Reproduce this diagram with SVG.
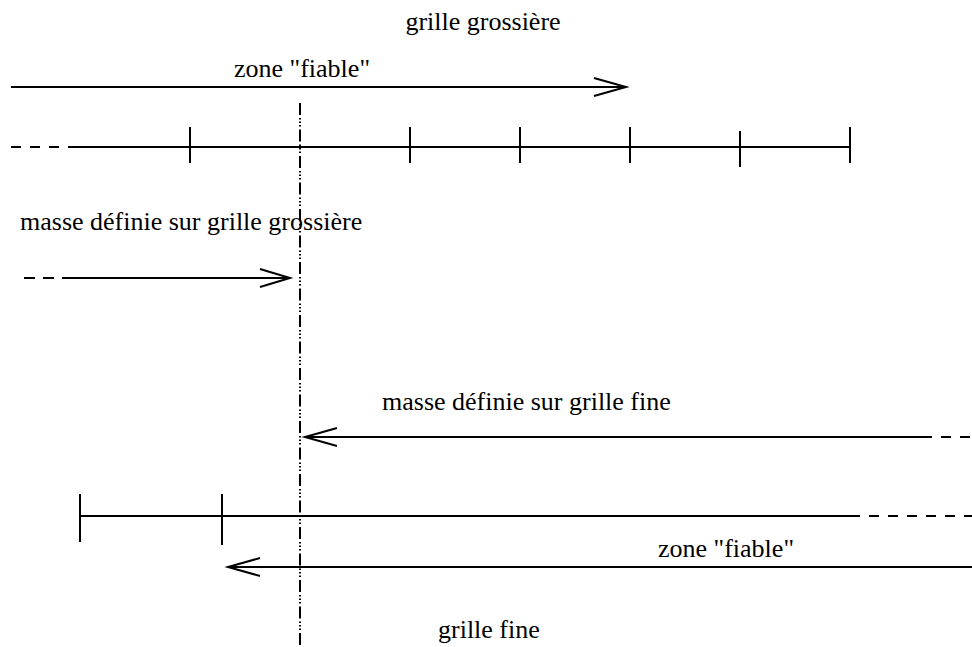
<svg xmlns="http://www.w3.org/2000/svg" width="972" height="647" viewBox="0 0 972 647">
<style>
.t{font-family:"Liberation Serif","Times New Roman",serif;font-size:26px;fill:#000}
.s{stroke:#000;stroke-width:2;fill:none}
.d{stroke:#000;stroke-width:2;fill:none;stroke-dasharray:10 9}
.dd{stroke:#000;stroke-width:2;fill:none;stroke-dasharray:12 3 1.5 2 1.5 2 1.5 3}
</style>
<rect width="972" height="647" fill="#fff"/>
<g id="labels">
<text class="t" x="483" y="30" text-anchor="middle">grille grossière</text>
<text class="t" x="302" y="77" text-anchor="middle">zone "fiable"</text>
<text class="t" x="20" y="230">masse définie sur grille grossière</text>
<text class="t" x="382" y="410">masse définie sur grille fine</text>
<text class="t" x="658" y="557">zone "fiable"</text>
<text class="t" x="438" y="638">grille fine</text>
</g>
<g id="coarse-grid">
<line class="d" x1="11" y1="147" x2="71" y2="147"/>
<line class="s" x1="71" y1="147" x2="851" y2="147"/>
<line class="s" x1="190" y1="127" x2="190" y2="163"/>
<line class="s" x1="410" y1="127" x2="410" y2="163"/>
<line class="s" x1="520" y1="127" x2="520" y2="163"/>
<line class="s" x1="630" y1="127" x2="630" y2="163"/>
<line class="s" x1="740" y1="131" x2="740" y2="167"/>
<line class="s" x1="850" y1="127" x2="850" y2="163"/>
</g>
<g id="fine-grid">
<line class="s" x1="80" y1="516" x2="850" y2="516"/>
<line class="d" x1="850" y1="516" x2="972" y2="516"/>
<line class="s" x1="80" y1="494" x2="80" y2="542"/>
<line class="s" x1="222" y1="494" x2="222" y2="545"/>
</g>
<g id="connectors">
<line class="dd" x1="300" y1="103" x2="300" y2="645"/>
<line class="s" x1="11" y1="87" x2="626" y2="87"/>
<polyline class="s" points="594,78 626,87 594,96"/>
<line class="d" x1="24" y1="278" x2="64" y2="278" style="stroke-dasharray:11 8"/>
<line class="s" x1="64" y1="278" x2="290" y2="278"/>
<polyline class="s" points="260,269 290,278 260,287"/>
<line class="s" x1="305" y1="437" x2="922" y2="437"/>
<line class="d" x1="922" y1="437" x2="972" y2="437"/>
<polyline class="s" points="337,428 305,437 337,446"/>
<line class="s" x1="228" y1="567" x2="972" y2="567"/>
<polyline class="s" points="260,558 228,567 260,576"/>
</g>
</svg>
